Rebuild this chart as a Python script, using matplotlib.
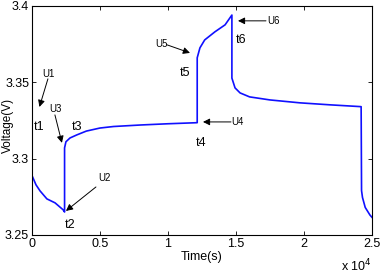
import matplotlib.pyplot as plt

plt.rcParams['font.family'] = ['Liberation Sans', 'DejaVu Sans']

# voltage curve (time in s, voltage in V)
time_s = [0, 0, 300, 600, 1100, 1700, 2300, 2400,
          2400, 2500, 2800, 3300, 4000, 5000, 6000, 8000, 10000, 12150,
          12150, 12350, 12700, 13450, 14200, 14700,
          14700, 14930, 15300, 16000, 17500, 19700, 21900, 24200,
          24230, 24300, 24500, 24850, 25000]
voltage = [3.332, 3.289, 3.2828, 3.2788, 3.2736, 3.271, 3.2664, 3.265,
           3.307, 3.311, 3.3135, 3.3155, 3.318, 3.320, 3.321, 3.322, 3.3228, 3.3235,
           3.366, 3.3725, 3.3777, 3.383, 3.3876, 3.394,
           3.3527, 3.3463, 3.343, 3.3404, 3.3384, 3.3365, 3.3352, 3.334,
           3.279, 3.2745, 3.268, 3.263, 3.2615]

x_ticks = [0, 5000, 10000, 15000, 20000, 25000]
x_ticklabels = ['0', '0.5', '1', '1.5', '2', '2.5']
y_ticks = [3.25, 3.3, 3.35, 3.4]
y_ticklabels = ['3.25', '3.3', '3.35', '3.4']

# (label, text pos, arrow tail, arrow tip)
arrows = [
    ('U1', (1250, 3.3555), (1176, 3.3522), (551, 3.3338)),
    ('U3', (1765, 3.3325), (1691, 3.3286), (2206, 3.3103)),
    ('U2', (5294, 3.2873), (4706, 3.2814), (2500, 3.2657)),
    ('U4', (15074, 3.324), (14632, 3.324), (12574, 3.324)),
    ('U5', (9485, 3.3751), (9926, 3.3745), (11618, 3.3692)),
    ('U6', (17794, 3.3902), (17206, 3.3902), (15147, 3.3902)),
]
t_labels = [('t1', 515, 3.3207), ('t3', 3309, 3.3207), ('t2', 2794, 3.2565),
            ('t4', 12426, 3.3103), ('t5', 11250, 3.3561), ('t6', 15368, 3.3777)]

fig = plt.figure(figsize=(3.8, 2.8), dpi=100)
ax = fig.add_axes([0.084, 0.161, 0.895, 0.818])

ax.plot(time_s, voltage, color='#1010ff', lw=1.2)

ax.set_xlim(0, 25000)
ax.set_ylim(3.25, 3.4)
ax.set_xticks(x_ticks)
ax.set_xticklabels(x_ticklabels)
ax.set_yticks(y_ticks)
ax.set_yticklabels(y_ticklabels)
ax.tick_params(direction='in', length=3, width=0.6, top=True, right=True,
               labelsize=9, pad=2)
for s in ax.spines.values():
    s.set_linewidth(0.8)

ax.set_xlabel('Time(s)', fontsize=9, labelpad=1)
ax.set_ylabel('Voltage(V)', fontsize=8.5)
ax.yaxis.set_label_coords(-0.054, 0.476)
fig.text(0.978, 0.02, r'x 10$^4$', fontsize=9, ha='right', va='bottom')

for lab, tpos, tail, tip in arrows:
    ax.text(tpos[0], tpos[1], lab, fontsize=7, ha='center', va='center')
    ax.annotate('', xy=tip, xytext=tail,
                arrowprops=dict(arrowstyle='-|>', color='k', lw=0.7,
                                mutation_scale=10, shrinkA=0, shrinkB=0))

for lab, tx, ty in t_labels:
    ax.text(tx, ty, lab, fontsize=9, ha='center', va='center')

fig.savefig('out.png', dpi=100)
